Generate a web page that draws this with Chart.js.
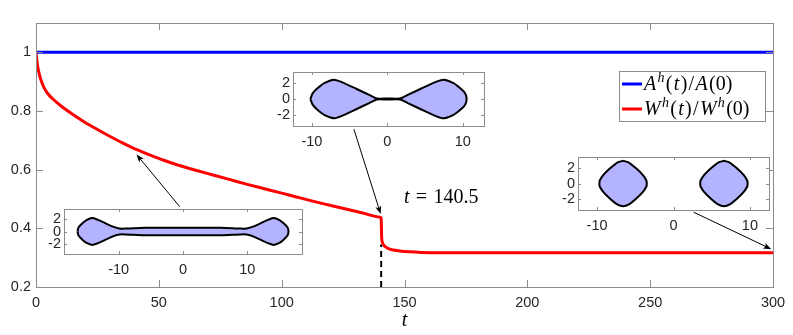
<!DOCTYPE html>
<html>
<head>
<meta charset="utf-8">
<script src="https://cdn.jsdelivr.net/npm/chart.js@4.4.1/dist/chart.umd.min.js"></script>
<style>
html, body { margin: 0; padding: 0; background: #fff; }
#wrap { position: relative; width: 793px; height: 335px; }
#wrap canvas { position: absolute; left: 0; top: 0; }
</style>
</head>
<body>
<div id="wrap">
  <canvas id="main" width="793" height="335"></canvas>
  <canvas id="inset1" width="793" height="335"></canvas>
  <canvas id="inset2" width="793" height="335"></canvas>
  <canvas id="inset3" width="793" height="335"></canvas>
</div>
<script>
// main curves
const areaT = [0, 300];
const areaRatio = [1, 1];
const tVals = [0, 0.5, 1, 2, 3, 4, 5, 7, 9, 11, 14, 17, 20, 25, 30, 35, 40, 45, 52, 58, 65, 72, 79, 86, 93, 100,
  106, 113, 120, 127, 133, 140, 140.5, 140.7, 141, 142, 143.5, 145.5, 148, 152, 157, 165, 180, 220, 260, 300];
const wRatio = [1, 0.962, 0.938, 0.906, 0.885, 0.869, 0.857, 0.84, 0.825, 0.812, 0.794, 0.777, 0.761, 0.737, 0.714, 0.692, 0.672, 0.655, 0.632, 0.615, 0.598, 0.582, 0.566, 0.55, 0.535, 0.52,
  0.507, 0.492, 0.478, 0.464, 0.452, 0.438, 0.434, 0.37, 0.352, 0.339, 0.331, 0.326, 0.323, 0.32, 0.318, 0.317, 0.317, 0.317, 0.317, 0.317];
const pinchT = [140.5, 140.5];
const pinchV = [0.2, 0.345];

const xTicksMain = [0, 50, 100, 150, 200, 250, 300];
const yTicksMain = [0.2, 0.4, 0.6, 0.8, 1];
const insetXTicks = [-10, 0, 10];
const insetYTicks = [-2, 0, 2];

// inset shapes (outline points)
const shape1X = [-16.4, -16.25, -15.6, -15.0, -14.1, -13.3, -12.5, -11.0, -9.9, -9.0, -6.0, 0, 6.0, 9.0, 9.9, 11.0, 12.5, 13.3, 14.1, 15.0, 15.6, 16.25, 16.4,
  16.25, 15.6, 15.0, 14.1, 13.3, 12.5, 11.0, 9.9, 9.0, 6.0, 0, -6.0, -9.0, -9.9, -11.0, -12.5, -13.3, -14.1, -15.0, -15.6, -16.25, -16.4];
const shape1Y = [0, 0.63, 1.31, 1.78, 2.09, 1.85, 1.5, 0.8, 0.47, 0.45, 0.58, 0.6, 0.58, 0.45, 0.47, 0.8, 1.5, 1.85, 2.09, 1.78, 1.31, 0.63, 0,
  -0.63, -1.31, -1.78, -2.09, -1.85, -1.5, -0.8, -0.47, -0.45, -0.58, -0.6, -0.58, -0.45, -0.47, -0.8, -1.5, -1.85, -2.09, -1.78, -1.31, -0.63, 0];

const shape2X = [-10.2, -9.9, -9.3, -8.3, -7.1, -6.2, -4.2, -2.4, -1.4, 0, 1.7, 2.7, 4.5, 6.5, 7.5, 8.7, 9.7, 10.3, 10.5,
  10.3, 9.7, 8.7, 7.5, 6.5, 4.5, 2.7, 1.7, 0, -1.4, -2.4, -4.2, -6.2, -7.1, -8.3, -9.3, -9.9, -10.2];
const shape2Y = [0, 0.7, 1.3, 2.0, 2.4, 2.15, 1.3, 0.5, 0.06, 0.06, 0.06, 0.5, 1.3, 2.15, 2.4, 2.0, 1.3, 0.7, 0,
  -0.7, -1.3, -2.0, -2.4, -2.15, -1.3, -0.5, -0.06, -0.06, -0.06, -0.5, -1.3, -2.15, -2.4, -2.0, -1.3, -0.7, 0];

const shape3aX = [-6.6, -5.9, -4.9, -4.0, -3.55, -3.5, -3.55, -4.0, -4.9, -5.9, -6.6, -7.3, -8.3, -9.2, -9.65, -9.7, -9.65, -9.2, -8.3, -7.3, -6.6];
const shape3aY = [3.0, 2.8, 2.0, 1.1, 0.4, 0, -0.4, -1.1, -2.0, -2.8, -3.0, -2.8, -2.0, -1.1, -0.4, 0, 0.4, 1.1, 2.0, 2.8, 3.0];
const shape3bX = [6.6, 7.3, 8.3, 9.2, 9.65, 9.7, 9.65, 9.2, 8.3, 7.3, 6.6, 5.9, 4.9, 4.0, 3.55, 3.5, 3.55, 4.0, 4.9, 5.9, 6.6];
const shape3bY = [3.0, 2.8, 2.0, 1.1, 0.4, 0, -0.4, -1.1, -2.0, -2.8, -3.0, -2.8, -2.0, -1.1, -0.4, 0, 0.4, 1.1, 2.0, 2.8, 3.0];

// arrows, in (t, ratio) of the main axes
const arrowFrom = [[58.5, 0.474], [129.4, 0.738], [267.7, 0.455]];
const arrowTo = [[40.9, 0.652], [140.3, 0.449], [299.3, 0.329]];
const noteAt = [149.8, 0.485];

const noteRuns = [['t', 'i'], [' =', 'r'], [' 140.5', 'r']];
const legendRuns = [
  [['A', 'i'], ['h', 's'], ['(', 'r'], ['t', 'i'], [')', 'r'], ['/', 'r'], ['A', 'i'], ['(0)', 'r']],
  [['W', 'i'], ['h', 's'], ['(', 'r'], ['t', 'i'], [')', 'r'], ['/', 'r'], ['W', 'i'], ['h', 's'], ['(0)', 'r']]
];

const SANS = '"Liberation Sans", Arial, Helvetica, sans-serif';
const SERIF = '"Liberation Serif", "Times New Roman", serif';
const pts = (xs, ys) => xs.map((x, i) => ({ x: x, y: ys[i] }));

function drawRuns(ctx, runs, x0, base, size) {
  let x = x0;
  ctx.textAlign = 'left';
  ctx.textBaseline = 'alphabetic';
  runs.forEach(([txt, st]) => {
    const sup = st === 's';
    const fs = sup ? Math.round(size * 0.7) : size;
    ctx.font = (st === 'r' ? '' : 'italic ') + fs + 'px ' + SERIF;
    ctx.fillText(txt, x, sup ? base - size * 0.4 : base);
    x += ctx.measureText(txt).width + 1.3 * txt.replace(/ /g, '').length;
  });
}

// box + inward ticks on all four sides
const frame = {
  id: 'frame',
  beforeDraw(chart, args, opts) {
    if (!opts.white) return;
    const a = chart.chartArea, ctx = chart.ctx;
    ctx.save();
    ctx.fillStyle = '#fff';
    ctx.fillRect(a.left, a.top, a.right - a.left, a.bottom - a.top);
    ctx.restore();
  },
  afterDatasetsDraw(chart, args, opts) {
    const { ctx, chartArea: a, scales: { x, y } } = chart;
    const L = opts.tick;
    ctx.save();
    ctx.strokeStyle = '#8c8c8c';
    ctx.lineWidth = 1;
    ctx.beginPath();
    x.ticks.forEach(t => {
      const px = Math.round(x.getPixelForValue(t.value)) + 0.5;
      ctx.moveTo(px, a.bottom); ctx.lineTo(px, a.bottom - L);
      ctx.moveTo(px, a.top); ctx.lineTo(px, a.top + L);
    });
    y.ticks.forEach(t => {
      const py = Math.round(y.getPixelForValue(t.value)) + 0.5;
      ctx.moveTo(a.left, py); ctx.lineTo(a.left + L, py);
      ctx.moveTo(a.right, py); ctx.lineTo(a.right - L, py);
    });
    ctx.stroke();
    ctx.strokeRect(Math.round(a.left) + 0.5, Math.round(a.top) + 0.5,
      Math.round(a.right - a.left), Math.round(a.bottom - a.top));
    ctx.restore();
  }
};

// arrows, the t = 140.5 note and the legend
const overlay = {
  id: 'overlay',
  afterDatasetsDraw(chart) {
    const { ctx, chartArea: a, scales: { x, y } } = chart;
    ctx.save();
    ctx.strokeStyle = '#000';
    ctx.fillStyle = '#000';
    ctx.lineWidth = 1;
    arrowFrom.forEach((p, i) => {
      const x0 = x.getPixelForValue(p[0]), y0 = y.getPixelForValue(p[1]);
      const x1 = x.getPixelForValue(arrowTo[i][0]), y1 = y.getPixelForValue(arrowTo[i][1]);
      const ang = Math.atan2(y1 - y0, x1 - x0);
      const c = Math.cos(ang), s = Math.sin(ang);
      ctx.beginPath();
      ctx.moveTo(x0, y0);
      ctx.lineTo(x1 - 5 * c, y1 - 5 * s);
      ctx.stroke();
      ctx.beginPath();
      ctx.moveTo(x1, y1);
      ctx.lineTo(x1 - 8 * c + 3 * s, y1 - 8 * s - 3 * c);
      ctx.lineTo(x1 - 6 * c, y1 - 6 * s);
      ctx.lineTo(x1 - 8 * c - 3 * s, y1 - 8 * s + 3 * c);
      ctx.closePath();
      ctx.fill();
    });

    ctx.fillStyle = '#000';
    drawRuns(ctx, noteRuns, x.getPixelForValue(noteAt[0]), y.getPixelForValue(noteAt[1]), 20);

    // legend
    const lx = a.right - 154, ly = a.top + 48, lw = 146, lh = 50;
    ctx.fillStyle = '#fff';
    ctx.fillRect(lx, ly, lw, lh);
    ctx.strokeStyle = '#8c8c8c';
    ctx.lineWidth = 1;
    ctx.strokeRect(lx + 0.5, ly + 0.5, lw, lh);
    const sets = chart.data.datasets;
    legendRuns.forEach((runs, i) => {
      const cy = ly + 13 + i * 25;
      ctx.strokeStyle = sets[i].borderColor;
      ctx.lineWidth = 3;
      ctx.beginPath();
      ctx.moveTo(lx + 3, cy); ctx.lineTo(lx + 23, cy);
      ctx.stroke();
      ctx.fillStyle = '#000';
      drawRuns(ctx, runs, lx + 25, cy + 6, 20);
    });
    ctx.restore();
  }
};

const tickFont = { family: SANS, size: 14.5 };

new Chart(document.getElementById('main'), {
  type: 'line',
  data: {
    datasets: [
      { label: 'A', data: pts(areaT, areaRatio), borderColor: '#0000ff', borderWidth: 3, pointRadius: 0 },
      { label: 'W', data: pts(tVals, wRatio), borderColor: '#ff0000', borderWidth: 3, pointRadius: 0,
        cubicInterpolationMode: 'monotone' },
      { label: '', data: pts(pinchT, pinchV), borderColor: '#000', borderWidth: 2, borderDash: [6, 4], pointRadius: 0 }
    ]
  },
  options: {
    responsive: false,
    animation: false,
    events: [],
    layout: { padding: { top: 23, right: 20, left: 0, bottom: 0 } },
    plugins: { legend: { display: false }, tooltip: { enabled: false }, frame: { tick: 7 } },
    scales: {
      x: {
        type: 'linear', min: 0, max: 300,
        afterBuildTicks: s => { s.ticks = xTicksMain.map(v => ({ value: v })); },
        afterFit: s => { s.height = 48; },
        grid: { display: false, drawTicks: false },
        border: { display: false },
        ticks: { padding: 7, color: '#262626', font: tickFont, maxRotation: 0, callback: v => String(v) },
        title: { display: true, text: 't', color: '#000', padding: { top: 0, bottom: 2 },
          font: { family: SERIF, style: 'italic', size: 20 } }
      },
      y: {
        type: 'linear', min: 0.2, max: 1.1,
        afterBuildTicks: s => { s.ticks = yTicksMain.map(v => ({ value: v })); },
        afterFit: s => { s.width = 36; },
        grid: { display: false, drawTicks: false },
        border: { display: false },
        ticks: { padding: 5, color: '#262626', font: tickFont, callback: v => String(v) }
      }
    }
  },
  plugins: [frame, overlay]
});

function makeInset(id, box, xr, yr, blobs) {
  new Chart(document.getElementById(id), {
    type: 'line',
    data: {
      datasets: blobs.map(([xs, ys]) => ({
        data: pts(xs, ys), borderColor: '#000', borderWidth: 2, backgroundColor: '#b3b3ff',
        fill: 'shape', pointRadius: 0, tension: 0.2
      }))
    },
    options: {
      responsive: false,
      animation: false,
      events: [],
      layout: { padding: { left: 0, top: box.top, right: 793 - box.right, bottom: 0 } },
      plugins: { legend: { display: false }, tooltip: { enabled: false }, frame: { tick: 3, white: true } },
      scales: {
        x: {
          type: 'linear', min: xr[0], max: xr[1],
          afterBuildTicks: s => { s.ticks = insetXTicks.map(v => ({ value: v })); },
          afterFit: s => { s.height = 335 - box.bottom; },
          grid: { display: false, drawTicks: false },
          border: { display: false },
          ticks: { padding: 7, color: '#262626', font: tickFont, maxRotation: 0, callback: v => String(v) }
        },
        y: {
          type: 'linear', min: yr[0], max: yr[1],
          afterBuildTicks: s => { s.ticks = insetYTicks.map(v => ({ value: v })); },
          afterFit: s => { s.width = box.left; },
          grid: { display: false, drawTicks: false },
          border: { display: false },
          ticks: { padding: 3, color: '#262626', font: tickFont, callback: v => String(v) }
        }
      }
    },
    plugins: [frame]
  });
}

makeInset('inset1', { left: 64, top: 209, right: 302, bottom: 254 }, [-18.5, 18.5], [-3.5, 3.5], [[shape1X, shape1Y]]);
makeInset('inset2', { left: 293, top: 72, right: 484, bottom: 126 }, [-12.5, 12.8], [-3.35, 3.35], [[shape2X, shape2Y]]);
makeInset('inset3', { left: 578, top: 157, right: 769, bottom: 210 }, [-12.5, 12.5], [-3.5, 3.5], [[shape3aX, shape3aY], [shape3bX, shape3bY]]);
</script>
</body>
</html>
